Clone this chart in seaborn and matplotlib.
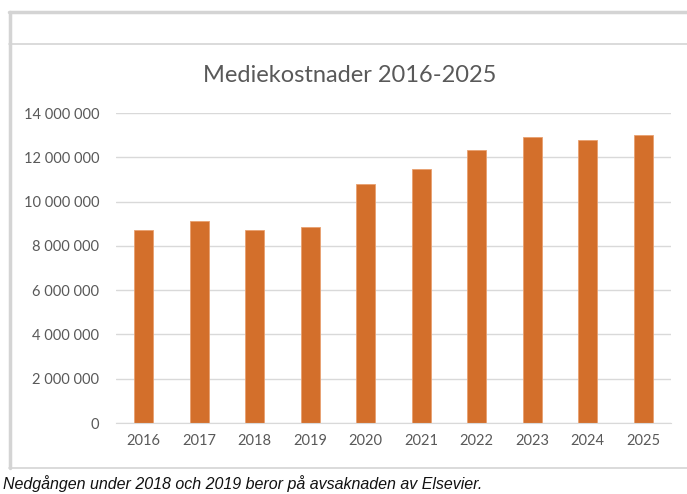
import matplotlib
matplotlib.use("Agg")
import matplotlib.pyplot as plt
import seaborn as sns
import pandas as pd
from matplotlib.lines import Line2D

# Values
years = ["2016", "2017", "2018", "2019", "2020", "2021", "2022", "2023", "2024", "2025"]
costs = [8720000, 9120000, 8720000, 8840000, 10800000, 11470000, 12330000, 12920000, 12780000, 13010000]
yticks = [0, 2000000, 4000000, 6000000, 8000000, 10000000, 12000000, 14000000]

df = pd.DataFrame({"year": years, "cost": costs})

sns.set_style("white")
plt.rcParams["font.family"] = ["Lato", "DejaVu Sans"]

fig = plt.figure(figsize=(6.87, 4.94), dpi=100)
W, H = 687, 494
ax = fig.add_axes([116 / W, 1 - 423 / H, (671 - 116) / W, (423 - 113) / H])

sns.barplot(data=df, x="year", y="cost", color="#D36F2B", width=0.335,
            saturation=1, ax=ax, edgecolor="#E8A070", linewidth=0.6)

ax.set_ylim(0, 14000000)
ax.set_yticks(yticks)
ax.set_yticklabels([f"{v:,}".replace(",", " ") for v in yticks])
ax.yaxis.grid(True, color="#D9D9D9", linewidth=1)
ax.set_axisbelow(True)
for s in ["top", "right", "left"]:
    ax.spines[s].set_visible(False)
ax.spines["bottom"].set_color("#D9D9D9")
ax.tick_params(axis="both", length=0, labelsize=10.5, labelcolor="#595959")
ax.tick_params(axis="y", pad=12)
ax.tick_params(axis="x", pad=8)
ax.set_xlabel("")
ax.set_ylabel("")

fig.text(350 / W, 1 - 75 / H, "Mediekostnader 2016-2025", ha="center", va="center",
         fontsize=17, color="#595959")

# Frame around the chart
frame = "#D4D4D4"
fig.add_artist(Line2D([9.5 / W, 9.5 / W], [1 - 12.5 / H, 1 - 468 / H], color=frame, lw=2.5, transform=fig.transFigure))
fig.add_artist(Line2D([9 / W, 1], [1 - 12.5 / H, 1 - 12.5 / H], color=frame, lw=2.5, transform=fig.transFigure))
fig.add_artist(Line2D([9 / W, 1], [1 - 44.5 / H, 1 - 44.5 / H], color=frame, lw=1.2, transform=fig.transFigure))
fig.add_artist(Line2D([9 / W, 1], [1 - 467.5 / H, 1 - 467.5 / H], color=frame, lw=1.2, transform=fig.transFigure))

fig.text(3 / W, 1 - 484 / H, "Nedgången under 2018 och 2019 beror på avsaknaden av Elsevier.",
         ha="left", va="center", fontsize=11.5, style="italic", color="#111111",
         family=["Liberation Sans", "DejaVu Sans"])

fig.savefig("out.png", dpi=100)
